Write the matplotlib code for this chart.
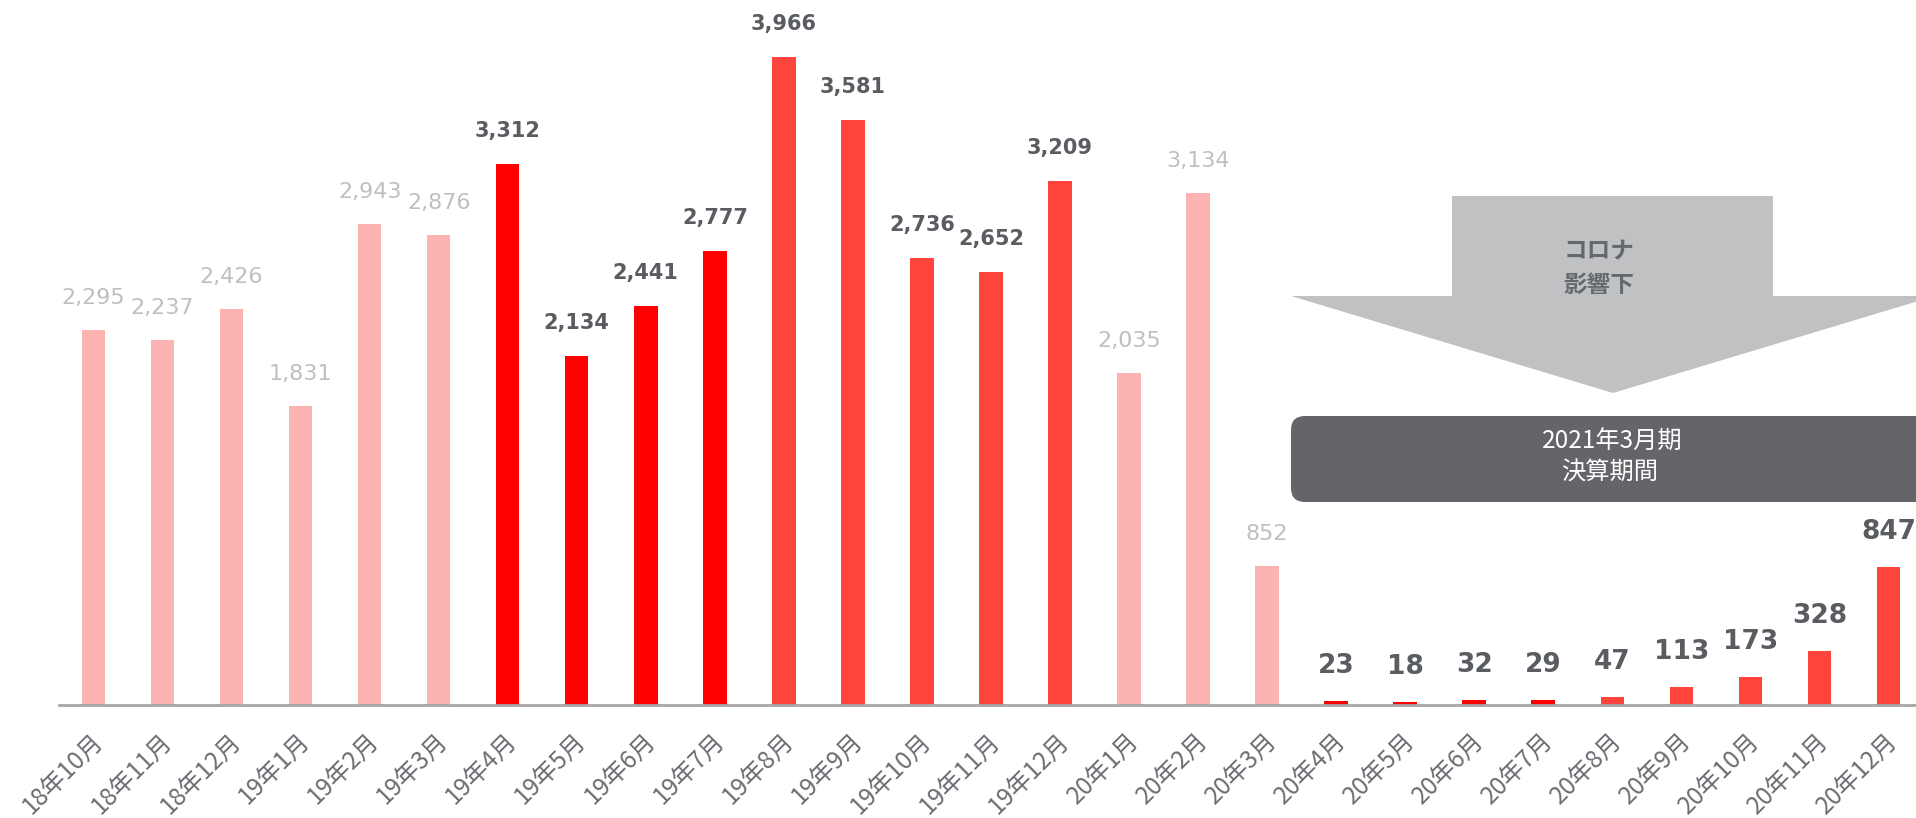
import matplotlib
matplotlib.use("Agg")
import matplotlib.pyplot as plt
from matplotlib.patches import Polygon, FancyBboxPatch
from matplotlib.transforms import IdentityTransform, ScaledTranslation

plt.rcParams['font.family'] = ['Noto Sans CJK JP', 'DejaVu Sans']

months = ["18年10月", "18年11月", "18年12月", "19年1月", "19年2月", "19年3月",
          "19年4月", "19年5月", "19年6月", "19年7月", "19年8月", "19年9月",
          "19年10月", "19年11月", "19年12月", "20年1月", "20年2月", "20年3月",
          "20年4月", "20年5月", "20年6月", "20年7月", "20年8月", "20年9月",
          "20年10月", "20年11月", "20年12月"]
values = [2295, 2237, 2426, 1831, 2943, 2876,
          3312, 2134, 2441, 2777, 3966, 3581,
          2736, 2652, 3209, 2035, 3134, 852,
          23, 18, 32, 29, 47, 113,
          173, 328, 847]
# group per bar: 0 = faded, 1 = pure red, 2 = coral red
groups = [0, 0, 0, 0, 0, 0,
          1, 1, 1, 1, 2, 2,
          2, 2, 2, 0, 0, 0,
          1, 1, 1, 1, 2, 2,
          2, 2, 2]

bar_colors = {0: "#FDB3B1", 1: "#FF0000", 2: "#FF433D"}
W, H = 1916, 818

fig = plt.figure(figsize=(W / 100, H / 100), dpi=100)
ax = fig.add_axes([59 / W, 1 - 705 / H, 1 - 59 / W, 705 / H])
x = list(range(len(values)))
ax.bar(x, values, width=0.34, color=[bar_colors[g] for g in groups], zorder=2)
ax.set_xlim(-0.5, 26.4)
ax.set_ylim(0, 4315)

for s in ["top", "left", "right"]:
    ax.spines[s].set_visible(False)
ax.spines["bottom"].set_color("#A6A6A6")
ax.spines["bottom"].set_linewidth(2)
ax.spines["bottom"].set_zorder(3)
ax.set_yticks([])
ax.set_xticks(x)
ax.set_xticklabels(months, rotation=45, ha="right", va="top",
                   rotation_mode="anchor", fontsize=17.5, color="#6A6D72")
ax.tick_params(axis="x", length=0, pad=17)
off = ScaledTranslation(-3 / 100, 0, fig.dpi_scale_trans)
for lab in ax.get_xticklabels():
    lab.set_transform(lab.get_transform() + off)

for i, v in enumerate(values):
    g = groups[i]
    if g == 0:
        ax.annotate(f"{v:,}", (i, v), xytext=(0, 26), textcoords="offset pixels",
                    ha="center", va="baseline", fontsize=16, color="#BFBFBF",
                    family="DejaVu Sans")
    elif v >= 1000:
        ax.annotate(f"{v:,}", (i, v), xytext=(0, 27), textcoords="offset pixels",
                    ha="center", va="baseline", fontsize=15, fontweight="bold",
                    color="#595C61", family="DejaVu Sans")
    else:
        ax.annotate(f"{v:,}", (i, v), xytext=(0, 28), textcoords="offset pixels",
                    ha="center", va="baseline", fontsize=19, fontweight="bold",
                    color="#595C61", family="DejaVu Sans")

# arrow (figure pixel coordinates, y from top)
arrow_pts = [(1452, 196), (1773, 196), (1773, 296), (1935, 296),
             (1613, 393), (1291, 296), (1452, 296)]
poly = Polygon([(px, H - py) for px, py in arrow_pts], closed=True,
               facecolor="#C0C1C3", edgecolor="none", transform=IdentityTransform())
fig.add_artist(poly)
fig.text(1599 / W, 1 - 251 / H, "コロナ", ha="center", va="center",
         fontsize=17, fontweight="bold", color="#65686D")
fig.text(1599 / W, 1 - 285 / H, "影響下", ha="center", va="center",
         fontsize=17, fontweight="bold", color="#65686D")

box = FancyBboxPatch((1291, H - 502), 700, 86,
                     boxstyle="round,pad=0,rounding_size=14",
                     facecolor="#636569", edgecolor="none", transform=IdentityTransform())
fig.add_artist(box)
fig.text(1612 / W, 1 - 442 / H, "2021年3月期", ha="center", va="center",
         fontsize=17.5, color="white")
fig.text(1610 / W, 1 - 473 / H, "決算期間", ha="center", va="center",
         fontsize=17.5, color="white")

fig.savefig("out.png", dpi=100, facecolor="white")
